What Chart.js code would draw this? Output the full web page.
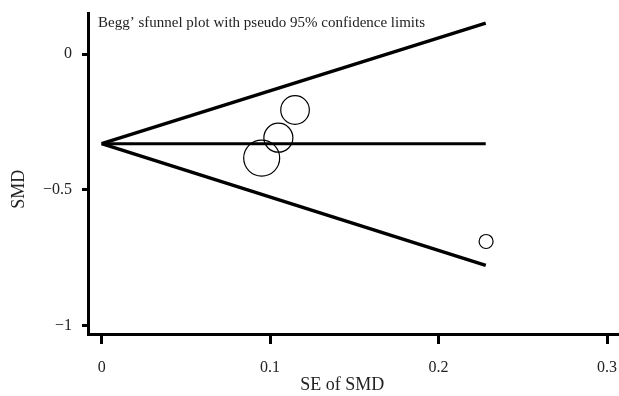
<!DOCTYPE html>
<html>
<head>
<meta charset="utf-8">
<script src="https://cdn.jsdelivr.net/npm/chart.js@4"></script>
<style>
  html, body { margin: 0; padding: 0; background: #fff; }
  canvas { display: block; }
</style>
</head>
<body>
<canvas id="funnelChart" width="619" height="396"></canvas>
<script>
// Study estimates (SE of SMD vs SMD)
const seSMD = [0.0950, 0.1049, 0.1148, 0.2282];
const smd = [-0.383, -0.308, -0.206, -0.690];

// pooled estimate and pseudo 95% limits, at SE = 0 and at max SE
const limitSE = [0, 0.228];
const pooledLine = [-0.33, -0.33];
const upperLimit = [-0.33, 0.114];
const lowerLimit = [-0.33, -0.778];

// axis ticks
const xTicks = [0, 0.1, 0.2, 0.3];
const yTicks = [0, -0.5, -1];

const markerRadius = [18, 14.5, 14.3, 7];

const serif = "'Liberation Serif', 'DejaVu Serif', serif";

function pairs(xs, ys) {
    return xs.map((x, i) => ({ x: x, y: ys[i] }));
}

function fmt(v) {
    if (v === 0) return '0';
    return (v < 0 ? '\u2212' : '') + String(Math.abs(v));
}

// caption inside the plot area, Stata style
const captionPlugin = {
    id: 'caption',
    afterDraw(chart) {
        const ctx = chart.ctx;
        const area = chart.chartArea;
        ctx.save();
        ctx.font = '15px ' + serif;
        ctx.fillStyle = '#222';
        ctx.textAlign = 'left';
        ctx.textBaseline = 'alphabetic';
        ctx.fillText('Begg\u2019 sfunnel plot with pseudo 95% confidence limits', area.left + 10, area.top + 14);
        ctx.restore();
    }
};

const lineStyle = { showLine: true, pointRadius: 0, borderColor: '#000', fill: false, tension: 0 };

const ctx = document.getElementById('funnelChart').getContext('2d');
const chart = new Chart(ctx, {
    type: 'scatter',
    data: {
        datasets: [
            Object.assign({ data: pairs(limitSE, upperLimit), borderWidth: 3.5 }, lineStyle),
            Object.assign({ data: pairs(limitSE, lowerLimit), borderWidth: 3.5 }, lineStyle),
            Object.assign({ data: pairs(limitSE, pooledLine), borderWidth: 3 }, lineStyle),
            {
                data: pairs(seSMD, smd),
                pointRadius: markerRadius,
                pointBackgroundColor: 'rgba(0,0,0,0)',
                pointBorderColor: '#000',
                pointBorderWidth: 1.2,
                showLine: false
            }
        ]
    },
    options: {
        responsive: false,
        animation: false,
        devicePixelRatio: 1,
        layout: { autoPadding: false, padding: { top: 13, right: 0, left: 0, bottom: 0 } },
        plugins: {
            legend: { display: false },
            tooltip: { enabled: false }
        },
        scales: {
            x: {
                type: 'linear',
                min: -0.0081,
                max: 0.3071,
                afterBuildTicks: axis => { axis.ticks = xTicks.map(v => ({ value: v })); },
                afterFit: scale => {
                    scale.height = 62;
                    scale.paddingLeft = 0;
                    scale.paddingRight = 0;
                },
                border: { display: true, color: '#000', width: 3 },
                grid: { drawOnChartArea: false, drawTicks: true, tickLength: 10, tickWidth: 3, tickColor: '#000' },
                ticks: {
                    padding: 14,
                    color: '#222',
                    font: { family: serif, size: 16 },
                    maxRotation: 0,
                    callback: v => fmt(v)
                },
                title: {
                    display: true,
                    // trailing spaces nudge the centred title left, as in the original
                    text: 'SE of SMD' + ' '.repeat(5),
                    color: '#222',
                    font: { family: serif, size: 18 },
                    padding: { top: 0, bottom: 0 }
                }
            },
            y: {
                type: 'linear',
                min: -1.0305,
                max: 0.151,
                afterBuildTicks: axis => { axis.ticks = yTicks.map(v => ({ value: v })); },
                afterFit: scale => {
                    scale.width = 88;
                    scale.paddingTop = 0;
                    scale.paddingBottom = 0;
                },
                border: { display: true, color: '#000', width: 3 },
                grid: { drawOnChartArea: false, drawTicks: true, tickLength: 6, tickWidth: 3, tickColor: '#000' },
                ticks: {
                    padding: 10,
                    color: '#222',
                    font: { family: serif, size: 16 },
                    callback: v => fmt(v)
                },
                title: {
                    display: true,
                    text: 'SMD' + ' '.repeat(7),
                    color: '#222',
                    font: { family: serif, size: 18 },
                    padding: { top: 8, bottom: 0 }
                }
            }
        }
    },
    plugins: [captionPlugin]
});
</script>
</body>
</html>
